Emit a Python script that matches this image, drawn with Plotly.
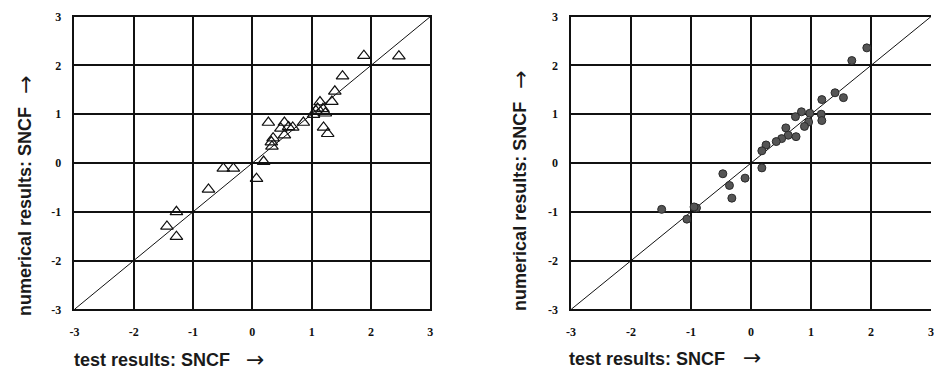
import plotly.graph_objects as go

# Left panel: open triangles (test vs numerical results)
tri_x = [1.88, 2.47, 1.52, 1.39, 1.34, 1.14, 1.10, 1.19, 1.23, 1.03, 1.07, 1.20, 1.27,
         0.27, 0.54, 0.48, 0.61, 0.68, 0.86, 0.54, 0.35, 0.32, 0.33, 0.19,
         -0.49, -0.32, 0.07, -0.74, -1.28, -1.44, -1.28]
tri_y = [2.20, 2.19, 1.78, 1.47, 1.26, 1.25, 1.12, 1.11, 1.02, 0.99, 1.07, 0.73, 0.60,
         0.83, 0.83, 0.71, 0.74, 0.73, 0.83, 0.57, 0.51, 0.43, 0.34, 0.03,
         -0.11, -0.11, -0.32, -0.54, -1.00, -1.30, -1.51]

# Right panel: filled dots
dot_x = [1.93, 1.68, 1.40, 1.54, 1.18, 0.84, 0.74, 0.98, 1.17, 1.18, 0.96, 0.89, 0.58,
         0.62, 0.75, 0.51, 0.42, 0.25, 0.18, 0.18, -0.47, -0.10, -0.36, -0.32,
         -0.91, -0.95, -1.49, -1.07]
dot_y = [2.36, 2.10, 1.44, 1.34, 1.30, 1.05, 0.95, 1.02, 1.00, 0.87, 0.84, 0.75, 0.72,
         0.57, 0.54, 0.50, 0.44, 0.37, 0.25, -0.10, -0.22, -0.31, -0.46, -0.72,
         -0.92, -0.90, -0.95, -1.15]

diag = [-3, 3]
ticks = [-3, -2, -1, 0, 1, 2, 3]
tick_text = ["-3", "-2", "-1", "0", "1", "2", "3"]

x_title = "test results: SNCF"
y_title = "numerical results: SNCF"
arrow = "→"

W, H = 934, 379
fig = go.Figure()

fig.add_trace(go.Scatter(x=diag, y=diag, mode="lines", line=dict(color="#111", width=1),
                         xaxis="x", yaxis="y", hoverinfo="skip"))
fig.add_trace(go.Scatter(x=tri_x, y=tri_y, mode="markers", xaxis="x", yaxis="y",
                         marker=dict(symbol="triangle-up-open", size=11,
                                     color="#111", line=dict(width=1.2, color="#111"))))
fig.add_trace(go.Scatter(x=diag, y=diag, mode="lines", line=dict(color="#111", width=1),
                         xaxis="x2", yaxis="y2", hoverinfo="skip"))
fig.add_trace(go.Scatter(x=dot_x, y=dot_y, mode="markers", xaxis="x2", yaxis="y2",
                         marker=dict(symbol="circle", size=8, color="#555",
                                     line=dict(width=1, color="#2a2a2a"))))

tick_font = dict(family="Liberation Serif, Times New Roman, serif", size=12,
                 color="#111", weight="bold")

def xaxis(domain, anchor):
    return dict(domain=domain, anchor=anchor, range=[-3, 3], tickvals=ticks, ticktext=tick_text,
                showgrid=True, gridcolor="#111", gridwidth=1.5, zeroline=False,
                showline=True, linecolor="#111", linewidth=1.5, mirror=True,
                ticks="", tickfont=tick_font, ticklabelstandoff=10, fixedrange=True)

def yaxis(domain, anchor, mirror):
    return dict(domain=domain, anchor=anchor, range=[-3, 3], tickvals=ticks, ticktext=tick_text,
                showgrid=True, gridcolor="#111", gridwidth=1.5, zeroline=False,
                showline=True, linecolor="#111", linewidth=1.5, mirror=mirror,
                ticks="", tickfont=tick_font, ticklabelstandoff=9, fixedrange=True)

ydom = [1 - 314 / H, 1 - 10 / H]
fig.update_layout(
    width=W, height=H, margin=dict(l=0, r=0, t=0, b=0),
    paper_bgcolor="white", plot_bgcolor="white", showlegend=False,
    xaxis=xaxis([70 / W, 429 / W], "y"),
    yaxis=yaxis(ydom, "x", True),
    xaxis2=xaxis([571 / W, 1.0], "y2"),
    yaxis2=yaxis(ydom, "x2", False),
)

title_font = dict(family="Liberation Sans", size=18, color="#1a1a1a", weight="bold")
arrow_font = dict(family="DejaVu Sans", size=22, color="#1a1a1a")

def add_text(text, x, y, font, angle=0, xanchor="center"):
    fig.add_annotation(text=text, xref="paper", yref="paper", x=x / W, y=1 - y / H,
                       xanchor=xanchor, yanchor="middle", textangle=angle,
                       showarrow=False, font=font)

# (x-title left, x-title y, x-arrow centre, y-title x, y-title centre, y-arrow centre)
panels = [(68, 367, 252, 20, 212, 81), (567, 365, 753, 520, 207, 76)]
for xl, yt, xa, yx, yc, ya in panels:
    add_text(x_title, xl, yt, title_font, xanchor="left")
    add_text(arrow, xa, yt - 1, arrow_font)
    add_text(y_title, yx, yc, title_font, angle=-90)
    add_text(arrow, yx, ya, arrow_font, angle=-90)

fig.write_html("out.html")
